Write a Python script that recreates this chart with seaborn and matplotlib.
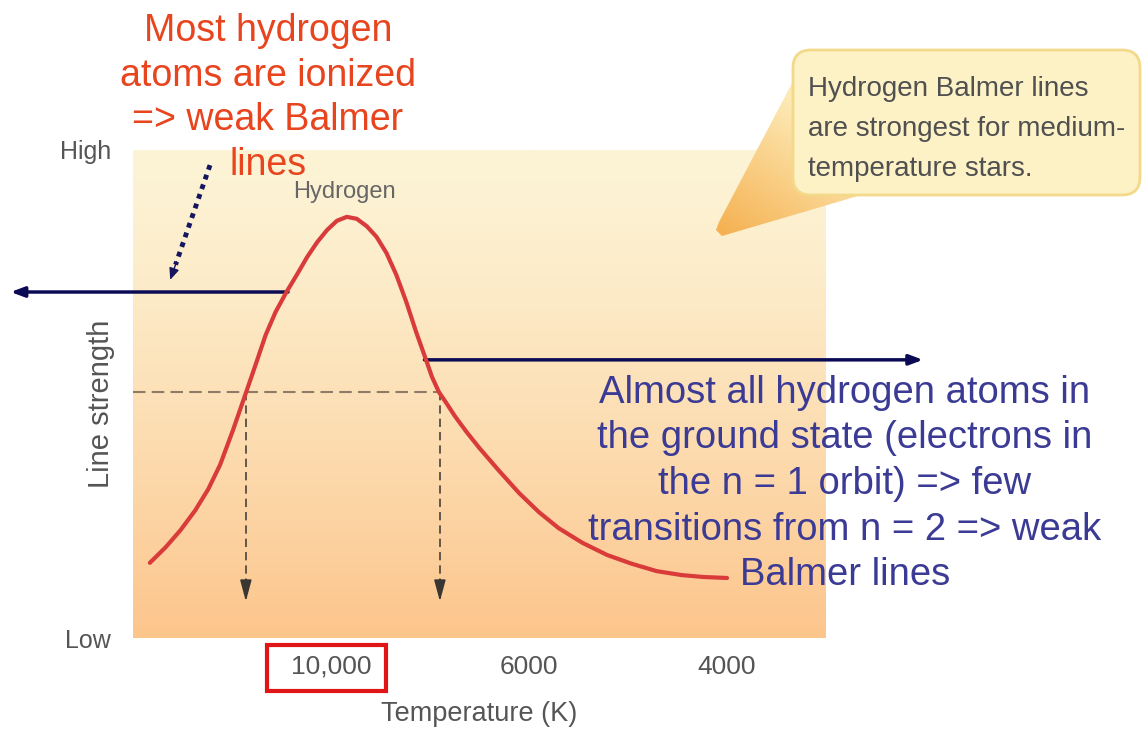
import numpy as np
import seaborn as sns
import matplotlib.pyplot as plt
from matplotlib.patches import FancyBboxPatch, Rectangle, Polygon
from matplotlib.colors import to_rgb

# curve (x = position along the temperature axis, ticks at 1..6)
temp_pos = [0.17, 0.33, 0.48, 0.63, 0.76, 0.88, 1.01, 1.14, 1.24, 1.34, 1.44, 1.55,
            1.66, 1.76, 1.86, 1.96, 2.06, 2.16, 2.26, 2.36, 2.46, 2.56, 2.66, 2.76,
            2.86, 2.96, 3.02, 3.09, 3.17, 3.25, 3.37, 3.50, 3.70, 3.90, 4.10, 4.30,
            4.54, 4.79, 5.04, 5.29, 5.54, 5.76, 6.00]
strength = [0.154, 0.186, 0.221, 0.262, 0.305, 0.355, 0.426, 0.502, 0.561, 0.621, 0.668, 0.709,
            0.746, 0.781, 0.811, 0.836, 0.855, 0.863, 0.859, 0.844, 0.822, 0.789, 0.744, 0.689,
            0.627, 0.570, 0.535, 0.504, 0.480, 0.455, 0.422, 0.389, 0.342, 0.297, 0.258, 0.225,
            0.195, 0.170, 0.152, 0.137, 0.129, 0.125, 0.123]

tick_pos = [1, 2, 3, 4, 5, 6]
tick_labels = ['', '10,000', '', '6000', '', '4000']
strength_ticks = [0, 1]
strength_labels = ['Low', 'High']

level = 0.504          # dashed "same strength" level
cross_x = [1.14, 3.10]  # where the dashed level meets the curve
arrow_left_y = 0.709
arrow_right_y = 0.570

sns.set_style('white')
plt.rcParams['font.family'] = ['Liberation Sans', 'DejaVu Sans']

W, H = 1144, 732
fig = plt.figure(figsize=(W / 100, H / 100), dpi=100)
ax = fig.add_axes([133 / W, 1 - 638 / H, 693 / W, 488 / H])
ax.set_xlim(0, 7)
ax.set_ylim(0, 1)

# background gradient, pale yellow at top to orange at bottom
t = np.linspace(0, 1, 256)[:, None] ** 1.3
top = np.array(to_rgb('#fdf4d6'))
bot = np.array(to_rgb('#fcc58c'))
bg = top + (bot - top) * t[..., None]
ax.imshow(bg, extent=[0, 7, 0, 1], aspect='auto', zorder=0)

sns.lineplot(x=temp_pos, y=strength, ax=ax, color='#d93a3a', linewidth=3, zorder=5)

ax.set_xticks(tick_pos, tick_labels)
ax.tick_params(axis='x', direction='in', length=21, width=1.3, color='#6e5a44',
               labelsize=19, labelcolor='#555555', pad=12)
ax.set_yticks(strength_ticks, strength_labels)
ax.tick_params(axis='y', length=0, labelsize=18, labelcolor='#555555', pad=16)
sns.despine(ax=ax, left=True, bottom=True, top=True, right=True)

ax.set_xlabel('Temperature (K)', fontsize=19.5, color='#555555', va='top')
ax.xaxis.set_label_coords(0.5, -0.13)
ax.set_ylabel('Line strength', fontsize=21, color='#555555')
ax.yaxis.set_label_coords(-0.026, 0.48)

ax.text(2.14, 0.914, 'Hydrogen', ha='center', va='center', fontsize=17, color='#666666')

# dashed guide lines
ax.plot([0, cross_x[1]], [level, level], ls=(0, (6, 3)), color='#8c7b66', lw=1.5, zorder=3)
for x in cross_x:
    ax.plot([x, x], [level, 0.11], ls=(0, (5, 3)), color='#4a4239', lw=1.2, zorder=3)
    ax.annotate('', xy=(x, 0.075), xytext=(x, 0.12),
                arrowprops=dict(arrowstyle='-|>,head_length=1.3,head_width=0.35',
                                color='#3a3631', lw=1.2, shrinkA=0, shrinkB=0))

# navy arrows
ax.annotate('', xy=(-1.236, arrow_left_y), xytext=(1.566, arrow_left_y),
            arrowprops=dict(arrowstyle='-|>,head_length=0.8,head_width=0.3',
                            color='#0b0b55', lw=2.5, shrinkA=0, shrinkB=0),
            annotation_clip=False)
ax.annotate('', xy=(7.98, arrow_right_y), xytext=(2.944, arrow_right_y),
            arrowprops=dict(arrowstyle='-|>,head_length=0.8,head_width=0.3',
                            color='#0b0b55', lw=2.5, shrinkA=0, shrinkB=0),
            annotation_clip=False)

# dotted pointer
ax.plot([0.778, 0.43], [0.969, 0.765], ls=(0, (1, 1.1)), lw=3.5, color='#151560',
        zorder=4, clip_on=False)
ax.annotate('', xy=(0.376, 0.734), xytext=(0.44, 0.771),
            arrowprops=dict(arrowstyle='-|>,head_length=0.7,head_width=0.3',
                            color='#151560', lw=1, shrinkA=0, shrinkB=0),
            annotation_clip=False)

# overlay in pixel coordinates for the free text and the callout
ov = fig.add_axes([0, 0, 1, 1], zorder=10)
ov.patch.set_alpha(0)
ov.axis('off')

# callout tail with gradient
xs = np.arange(700, 870)
ys = np.arange(60, 245)
X, Y = np.meshgrid(xs, ys)
d = np.array([84.0, -122.0])
tt = np.clip(((X - 716) * d[0] + (Y - 232) * d[1]) / (d @ d), 0, 1)[..., None]
c0 = np.array(to_rgb('#f5b050'))
c1 = np.array(to_rgb('#fde9b4'))
tail_img = c0 + (c1 - c0) * tt
im = ov.imshow(tail_img, extent=[700, 870, 245, 60], origin='upper', aspect='auto', zorder=1)
tail = Polygon([(800, 68), (719, 222), (716, 230), (722, 236), (858, 196)], closed=True,
               fc='none', ec='none', transform=ov.transData)
ov.add_patch(tail)
im.set_clip_path(tail)

box = FancyBboxPatch((793, 50), 347, 145, boxstyle='round,pad=0,rounding_size=18',
                     fc='#fdf1c6', ec='#f3d98a', lw=2, zorder=2)
ov.add_patch(box)
ov.text(808, 129, 'Hydrogen Balmer lines\nare strongest for medium-\ntemperature stars.',
        ha='left', va='center', fontsize=20, color='#505050', linespacing=1.68, zorder=3)

ov.text(268, 98, 'Most hydrogen\natoms are ionized\n=> weak Balmer\nlines',
        ha='center', va='center', fontsize=27, color='#e8441e', linespacing=1.31)

ov.text(845, 484, 'Almost all hydrogen atoms in\nthe ground state (electrons in\n'
        'the n = 1 orbit) => few\ntransitions from n = 2 => weak\nBalmer lines',
        ha='center', va='center', fontsize=27.5, color='#3b3b95', linespacing=1.34)

ov.add_patch(Rectangle((267, 645), 119, 46, fill=False, ec='#e01515', lw=3))

ov.set_xlim(0, W)
ov.set_ylim(H, 0)

fig.savefig('out.png', dpi=100)
